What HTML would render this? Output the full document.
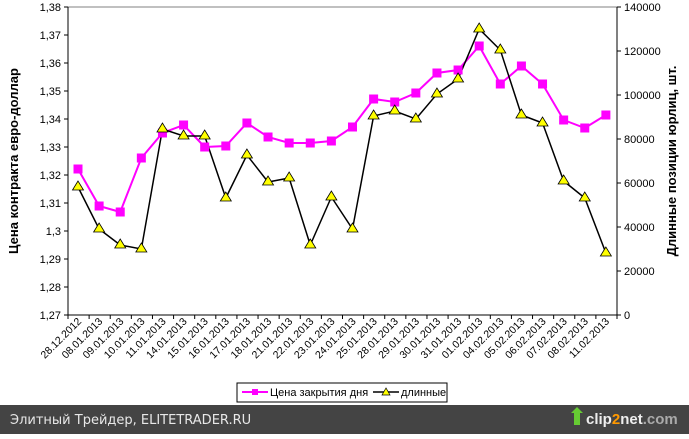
<!DOCTYPE html>
<html><head><meta charset="utf-8"><style>
body{margin:0;width:689px;height:434px;overflow:hidden;background:#fff;font-family:"Liberation Sans",Arial,sans-serif}
</style></head><body>
<svg width="689" height="434" xmlns="http://www.w3.org/2000/svg" font-family="Liberation Sans, Arial, sans-serif">
<rect width="689" height="434" fill="#fff"/>
<line x1="68" y1="7" x2="617" y2="7" stroke="#808080"/>
<line x1="68" y1="7" x2="68" y2="315" stroke="#000"/>
<line x1="617" y1="7" x2="617" y2="315" stroke="#000"/>
<line x1="68" y1="315" x2="617" y2="315" stroke="#000"/>
<g id="lt" stroke="#000"></g>
<g id="labels" font-size="11" fill="#000"></g>
<text transform="translate(18,161) rotate(-90)" text-anchor="middle" font-size="13" font-weight="bold">Цена контракта евро-доллар</text>
<text transform="translate(676,161) rotate(-90)" text-anchor="middle" font-size="13" font-weight="bold">Длинные позиции юрлиц, шт.</text>
<polyline id="pk" fill="none" stroke="#ff00ff" stroke-width="2"/>
<polyline id="bk" fill="none" stroke="#000" stroke-width="1.5"/>
<g id="mk"></g>
<rect x="237" y="383" width="210" height="19" fill="#fff" stroke="#000"/>
<line x1="242" y1="392" x2="268" y2="392" stroke="#ff00ff" stroke-width="2"/>
<rect x="252" y="389" width="6" height="6" fill="#ff00ff"/>
<text x="270" y="396" font-size="11">Цена закрытия дня</text>
<line x1="373" y1="392" x2="399" y2="392" stroke="#000" stroke-width="1.5"/>
<polygon points="386,388 382,395 390,395" fill="#ff0" stroke="#000" stroke-width="0.7"/>
<text x="401" y="396" font-size="11">длинные</text>
<rect x="0" y="405" width="689" height="29" fill="#444"/>
<text x="10" y="424" font-size="13" fill="#e8e8e8" font-family="DejaVu Sans, sans-serif">Элитный Трейдер, ELITETRADER.RU</text>
<polygon points="571,413 577,407 583,413 580,413 580,425 574,425 574,413" fill="#6c3"/>
<text x="586" y="424" font-size="15" font-weight="bold" fill="#eee">clip<tspan fill="#f90">2</tspan>net<tspan fill="#aaa">.com</tspan></text>
</svg>
<script>
const lt=document.getElementById('lt'),lb=document.getElementById('labels'),mk=document.getElementById('mk');
const NS='http://www.w3.org/2000/svg';
function el(t,a,p,txt){const e=document.createElementNS(NS,t);for(const k in a)e.setAttribute(k,a[k]);if(txt)e.textContent=txt;p.appendChild(e);return e;}
const L=['1,27','1,28','1,29','1,3','1,31','1,32','1,33','1,34','1,35','1,36','1,37','1,38'];
for(let i=0;i<12;i++){const y=315-i*28;
el('line',{x1:64,y1:y,x2:68,y2:y},lt);el('text',{x:61,y:y+4,'text-anchor':'end'},lb,L[i]);}
for(let i=0;i<8;i++){const y=315-i*44;
el('line',{x1:617,y1:y,x2:621,y2:y},lt);el('text',{x:624,y:y+4},lb,String(i*20000));}
const D=['28.12.2012','08.01.2013','09.01.2013','10.01.2013','11.01.2013','14.01.2013','15.01.2013','16.01.2013','17.01.2013','18.01.2013','21.01.2013','22.01.2013','23.01.2013','24.01.2013','25.01.2013','28.01.2013','29.01.2013','30.01.2013','31.01.2013','01.02.2013','04.02.2013','05.02.2013','06.02.2013','07.02.2013','08.02.2013','11.02.2013'];
const sp=549/26;
for(let i=0;i<=26;i++){const x=68+i*sp;el('line',{x1:x,y1:315,x2:x,y2:319},lt);}
const P=[169,206,212,158,133,125,147,146,123,137,143,143,141,127,99,102,93,73,70,46,84,66,84,120,128,115];
const B=[187,229,245,249,129,136,136,198,155,182,178,245,197,229,116,111,119,94,79,29,50,115,123,181,198,253];
let pp=[],bp=[];
for(let i=0;i<26;i++){const x=78+i*sp;
el('text',{x:x+4,y:322,'text-anchor':'end','font-size':'10.5',transform:`rotate(-45 ${x+4} 322)`},lb,D[i]);
pp.push(x+','+P[i]);bp.push(x+','+B[i]);}
document.getElementById('pk').setAttribute('points',pp.join(' '));
document.getElementById('bk').setAttribute('points',bp.join(' '));
for(let i=0;i<26;i++){const x=78+i*sp;
el('rect',{x:x-4.5,y:P[i]-4.5,width:9,height:9,fill:'#ff00ff'},mk);
el('polygon',{points:`${x},${B[i]-6} ${x-5.5},${B[i]+3} ${x+5.5},${B[i]+3}`,fill:'#ffff00',stroke:'#000','stroke-width':0.8},mk);}
</script>
</body></html>
